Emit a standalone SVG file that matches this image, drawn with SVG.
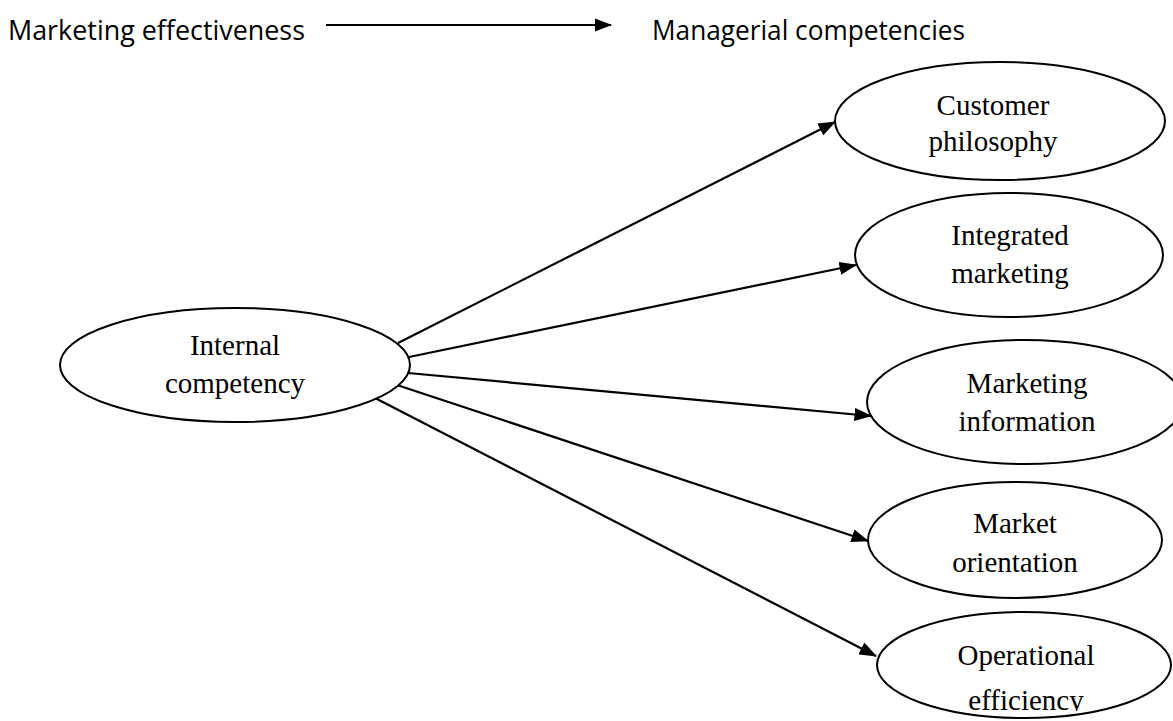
<svg xmlns="http://www.w3.org/2000/svg" width="1173" height="721" viewBox="0 0 1173 721">
<style>
.node ellipse{fill:#fff;stroke:#000;stroke-width:2}
.lbl{font-family:"Liberation Serif","Times New Roman",serif;font-size:29px;fill:#000;text-anchor:middle}
.hdr{font-family:"Open Sans","Noto Sans",sans-serif;font-size:27px;fill:#000}
.conn line{stroke:#000;stroke-width:2.2}
</style>
<defs>
<marker id="ah" markerWidth="8" markerHeight="6" refX="7.5" refY="3" orient="auto" markerUnits="strokeWidth">
<path d="M0,0 L8,3 L0,6 Z" fill="#000"/>
</marker>
<clipPath id="clipOp"><rect x="0" y="0" width="1173" height="711"/></clipPath>
</defs>
<rect width="1173" height="721" fill="#fff"/>
<g id="header">
<text class="hdr" x="8" y="40" textLength="297" lengthAdjust="spacingAndGlyphs">Marketing effectiveness</text>
<text class="hdr" x="652" y="40" textLength="313" lengthAdjust="spacingAndGlyphs">Managerial competencies</text>
</g>
<g class="conn" id="connectors">
<line x1="326" y1="25" x2="611" y2="25" marker-end="url(#ah)"/>
<line x1="398" y1="343" x2="835" y2="122" marker-end="url(#ah)"/>
<line x1="409" y1="357" x2="856" y2="265" marker-end="url(#ah)"/>
<line x1="408" y1="373" x2="871" y2="416" marker-end="url(#ah)"/>
<line x1="397" y1="385" x2="868" y2="541" marker-end="url(#ah)"/>
<line x1="375" y1="398" x2="876" y2="656" marker-end="url(#ah)"/>
</g>
<g class="node" id="internal">
<ellipse cx="235" cy="365" rx="175" ry="57"/>
<text class="lbl" x="235" y="355">Internal</text>
<text class="lbl" x="235" y="393">competency</text>
</g>
<g class="node" id="customer">
<ellipse cx="1000" cy="121" rx="165" ry="59"/>
<text class="lbl" x="993" y="115">Customer</text>
<text class="lbl" x="993" y="151">philosophy</text>
</g>
<g class="node" id="integrated">
<ellipse cx="1009" cy="255" rx="154" ry="62"/>
<text class="lbl" x="1010" y="245">Integrated</text>
<text class="lbl" x="1010" y="283">marketing</text>
</g>
<g class="node" id="information">
<ellipse cx="1025" cy="402" rx="158" ry="62"/>
<text class="lbl" x="1027" y="393">Marketing</text>
<text class="lbl" x="1027" y="431">information</text>
</g>
<g class="node" id="orientation">
<ellipse cx="1015" cy="540" rx="147" ry="58"/>
<text class="lbl" x="1015" y="533">Market</text>
<text class="lbl" x="1015" y="572">orientation</text>
</g>
<g class="node" id="operational">
<ellipse cx="1024" cy="665" rx="147" ry="53"/>
<text class="lbl" x="1026" y="665">Operational</text>
<text class="lbl" x="1026" y="710" clip-path="url(#clipOp)">efficiency</text>
</g>
</svg>
